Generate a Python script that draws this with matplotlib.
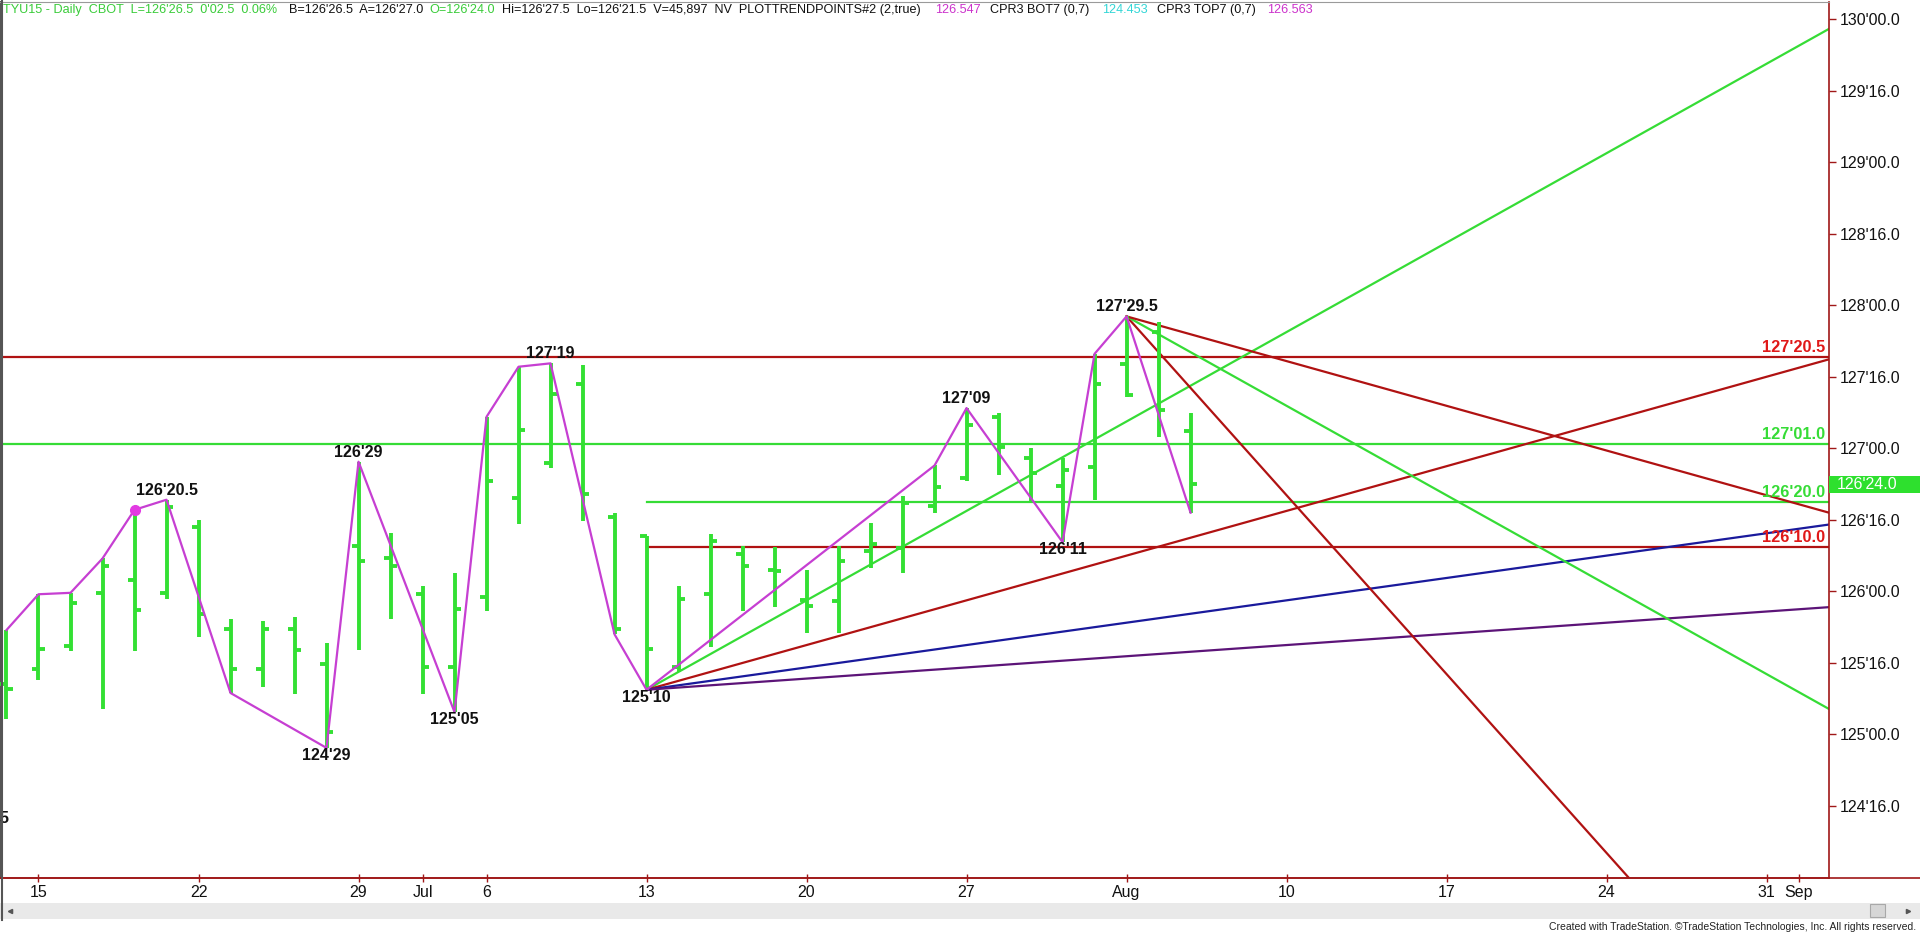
import matplotlib
matplotlib.use("Agg")
import matplotlib.pyplot as plt
from matplotlib.patches import Rectangle
from matplotlib.lines import Line2D
from matplotlib.ticker import FuncFormatter

plt.rcParams['font.family'] = ['Liberation Sans', 'DejaVu Sans']

# TYU15 daily bars, trading-day index 0 = Fri Jun 12 2015 (Jul 3 holiday skipped)
opens = [125.35, 125.46, 125.62, 125.99, 126.08, 125.99, 126.45, 125.74, 125.46, 125.74,
         125.49, 126.32, 126.23, 125.98, 125.47, 125.96, 126.65, 126.90, 127.45, 126.52,
         126.39, 125.47, 125.98, 126.26, 126.15, 125.94, 125.93, 126.28, 126.30, 126.60,
         126.79, 127.22, 126.93, 126.74, 126.87, 127.59, 127.81, 127.12]
highs = [125.73, 125.98, 125.99, 126.23, 126.57, 126.640625, 126.50, 125.81, 125.79, 125.82,
         125.64, 126.90625, 126.41, 126.04, 126.13, 127.22, 127.57, 127.59375, 127.58, 126.55,
         126.39, 126.04, 126.40, 126.32, 126.31, 126.15, 126.32, 126.48, 126.67, 126.88,
         127.28125, 127.25, 127.00, 126.93, 127.66, 127.921875, 127.88, 127.25]
lows = [125.11, 125.38, 125.58, 125.18, 125.58, 125.95, 125.68, 125.29, 125.33, 125.28,
        124.90625, 125.59, 125.81, 125.28, 125.15625, 125.86, 126.47, 126.86, 126.49, 125.70,
        125.3125, 125.44, 125.61, 125.86, 125.89, 125.71, 125.71, 126.16, 126.13, 126.55,
        126.77, 126.81, 126.63, 126.34375, 126.64, 127.36, 127.08, 126.55]
closes = [125.32, 125.60, 125.92, 126.18, 125.87, 126.59, 125.84, 125.46, 125.74, 125.59,
          125.02, 126.21, 126.18, 125.47, 125.88, 126.77, 127.13, 127.38, 126.68, 125.74,
          125.60, 125.95, 126.35, 126.18, 126.14, 125.90, 126.21, 126.33, 126.62, 126.73,
          127.16, 127.01, 126.83, 126.85, 127.45, 127.37, 127.27, 126.75]
days = list(range(len(opens)))

# trend-point zigzag (day, high/low)
zigzag = [(0, 'H'), (1, 'H'), (2, 'H'), (3, 'H'), (4, 'H'), (5, 'H'), (7, 'L'), (10, 'L'),
          (11, 'H'), (14, 'L'), (15, 'H'), (16, 'H'), (17, 'H'), (19, 'L'), (20, 'L'),
          (29, 'H'), (30, 'H'), (33, 'L'), (34, 'H'), (35, 'H'), (37, 'L')]
pivots = [(5, 'H'), (10, 'L'), (11, 'H'), (14, 'L'), (17, 'H'), (20, 'L'), (30, 'H'), (33, 'L'), (35, 'H')]
dot_day = 4

# horizontal levels: price, first day (None = whole chart), colour
levels = [127.640625, 127.03125, 126.625, 126.3125]
level_start = [None, None, 20, 20]
level_kind = ['red', 'green', 'green', 'red']

# gann fans: pivot day, slopes in 32nds per day
fan_low_day = 20
fan_low_slopes = [4, 2, 1, 0.5]
fan_low_kind = ['green', 'red', 'blue', 'purple']
fan_high_day = 35
fan_high_slopes = [-8, -4, -2]
fan_high_kind = ['red', 'green', 'red']

date_ticks = [1, 6, 11, 13, 15, 20, 25, 30, 35, 40, 45, 50, 55, 56]
date_labels = ['15', '22', '29', 'Jul', '6', '13', '20', '27', 'Aug', '10', '17', '24', '31', 'Sep']

last_price = 126.75

bar_green = '#33e033'
line_colors = {'green': '#36dc36', 'red': '#b01212', 'blue': '#1a1a9c', 'purple': '#5c1478'}
label_colors = {'green': '#36dc36', 'red': '#e01818'}
zz_color = '#c63fd2'
axis_red = '#a01818'


def price_of(d, kind):
    return highs[d] if kind == 'H' else lows[d]


def fmt32(p, always_dec=True):
    whole = int(p)
    frac = round((p - whole) * 64) / 2
    if always_dec or frac != int(frac):
        return "%d'%04.1f" % (whole, frac)
    return "%d'%02d" % (whole, int(frac))


W, H = 1920, 934
fig = plt.figure(figsize=(19.2, 9.34), dpi=100)
fig.patch.set_facecolor('white')
ax = fig.add_axes([0, (H - 878) / H, 1829 / W, 876 / H])
xmin, xmax = -0.203, 56.95
ax.set_xlim(xmin, xmax)
ax.set_ylim(123.997, 130.119)

# levels
for lv, st, kind in zip(levels, level_start, level_kind):
    x0 = xmin if st is None else st
    ax.plot([x0, xmax], [lv, lv], color=line_colors[kind], lw=1.6, zorder=2)
    ax.annotate(fmt32(lv), xy=(1, lv), xycoords=('axes fraction', 'data'),
                xytext=(-4, 2), textcoords='offset pixels', ha='right', va='bottom',
                fontsize=11.8, fontweight='bold', color=label_colors[kind], zorder=6)

# fans
p0 = lows[fan_low_day]
for s, kind in zip(fan_low_slopes, fan_low_kind):
    ax.plot([fan_low_day, xmax], [p0, p0 + s / 32 * (xmax - fan_low_day)],
            color=line_colors[kind], lw=1.6, zorder=2)
p1 = highs[fan_high_day]
for s, kind in zip(fan_high_slopes, fan_high_kind):
    ax.plot([fan_high_day, xmax], [p1, p1 + s / 32 * (xmax - fan_high_day)],
            color=line_colors[kind], lw=1.6, zorder=2)

# bars
ax.vlines(days, lows, highs, color=bar_green, lw=2.8, zorder=3)
ax.hlines(opens, [d - 0.21 for d in days], days, color=bar_green, lw=2.8, zorder=3)
ax.hlines(closes, days, [d + 0.21 for d in days], color=bar_green, lw=2.8, zorder=3)

# zigzag
ax.plot([d for d, k in zigzag], [price_of(d, k) for d, k in zigzag], color=zz_color, lw=1.6, zorder=4)
ax.plot([dot_day], [highs[dot_day]], 'o', color='#e23ae2', ms=7, zorder=5)

for d, k in pivots:
    p = price_of(d, k)
    if k == 'H':
        ax.annotate(fmt32(p, False), xy=(d, p), xytext=(0, 2), textcoords='offset pixels',
                    ha='center', va='bottom', fontsize=11.5, fontweight='bold', color='#111111', zorder=6)
    else:
        ax.annotate(fmt32(p, False), xy=(d, p), xytext=(0, 0), textcoords='offset pixels',
                    ha='center', va='top', fontsize=11.5, fontweight='bold', color='#111111', zorder=6)
ax.text(0, 0.068, '5', transform=ax.transAxes, ha='left', va='center',
        fontsize=11.5, fontweight='bold', color='#111111')

# axes
for side in ['right', 'bottom']:
    ax.spines[side].set_color(axis_red)
    ax.spines[side].set_linewidth(1.2)
ax.spines['top'].set_color('#9a9a9a')
ax.spines['left'].set_color('#555555')
ax.spines['left'].set_linewidth(1.5)
ax.yaxis.tick_right()
ax.set_yticks([124.5 + 0.5 * i for i in range(12)])
ax.yaxis.set_major_formatter(FuncFormatter(lambda v, pos: fmt32(v)))
ax.tick_params(axis='y', direction='out', length=5, width=1, color=axis_red,
               labelcolor='#111111', labelsize=11.5, pad=3)
ax.set_xticks(date_ticks)
ax.set_xticklabels(date_labels)
ax.tick_params(axis='x', direction='inout', length=6, width=1, color=axis_red,
               labelcolor='#111111', labelsize=11.5, pad=2)

# last price box
box_h = 17 / 143.1
ax.add_patch(Rectangle((1.0, last_price - box_h / 2), (W - 1829) / 1829, box_h,
                       transform=ax.get_yaxis_transform(), facecolor='#2ee02e',
                       edgecolor='none', clip_on=False, zorder=7))
ax.text(1.0045, last_price, fmt32(last_price), transform=ax.get_yaxis_transform(),
        ha='left', va='center', fontsize=11.5, color='white', zorder=8)

# bottom axis line continues under the price scale
fig.add_artist(Line2D([0, 1], [(H - 878) / H] * 2, color=axis_red, lw=1.2))

# scrollbar + footer
fig.add_artist(Rectangle((0, (H - 919) / H), 1, 16 / H, facecolor='#e9e9e9', edgecolor='none'))
fig.add_artist(Rectangle((1870 / W, (H - 917) / H), 15 / W, 13 / H,
                         facecolor='#d6d6d6', edgecolor='#a8a8a8', lw=0.8))
fig.add_artist(Line2D([10 / W], [(H - 911) / H], marker='<', ms=3, color='#555555'))
fig.add_artist(Line2D([1908 / W], [(H - 911) / H], marker='>', ms=3, color='#555555'))
fig.add_artist(Line2D([1.5 / W, 1.5 / W], [(H - 920) / H, 1], color='#555555', lw=1.5))
fig.text(1916 / W, 1 - 927 / H, 'Created with TradeStation. \u00a9TradeStation Technologies, Inc. All rights reserved.',
         ha='right', va='center', fontsize=7.5, color='#222222')

# header
header = [(3, "TYU15 - Daily  CBOT  L=126'26.5  0'02.5  0.06%", '#3acc3a'),
          (289, "B=126'26.5  A=126'27.0", '#111111'),
          (429, "O=126'24.0", '#3acc3a'),
          (502, "Hi=126'27.5  Lo=126'21.5  V=45,897  NV  PLOTTRENDPOINTS#2 (2,true)", '#111111'),
          (935, "126.547", '#cc33cc'),
          (990, "CPR3 BOT7 (0,7)", '#111111'),
          (1102, "124.453", '#33d6d6'),
          (1157, "CPR3 TOP7 (0,7)", '#111111'),
          (1267, "126.563", '#cc33cc')]
for x, s, c in header:
    fig.text(x / W, 1 - 10 / H, s, ha='left', va='center', fontsize=9.1, color=c)

fig.savefig('out.png', dpi=100)
